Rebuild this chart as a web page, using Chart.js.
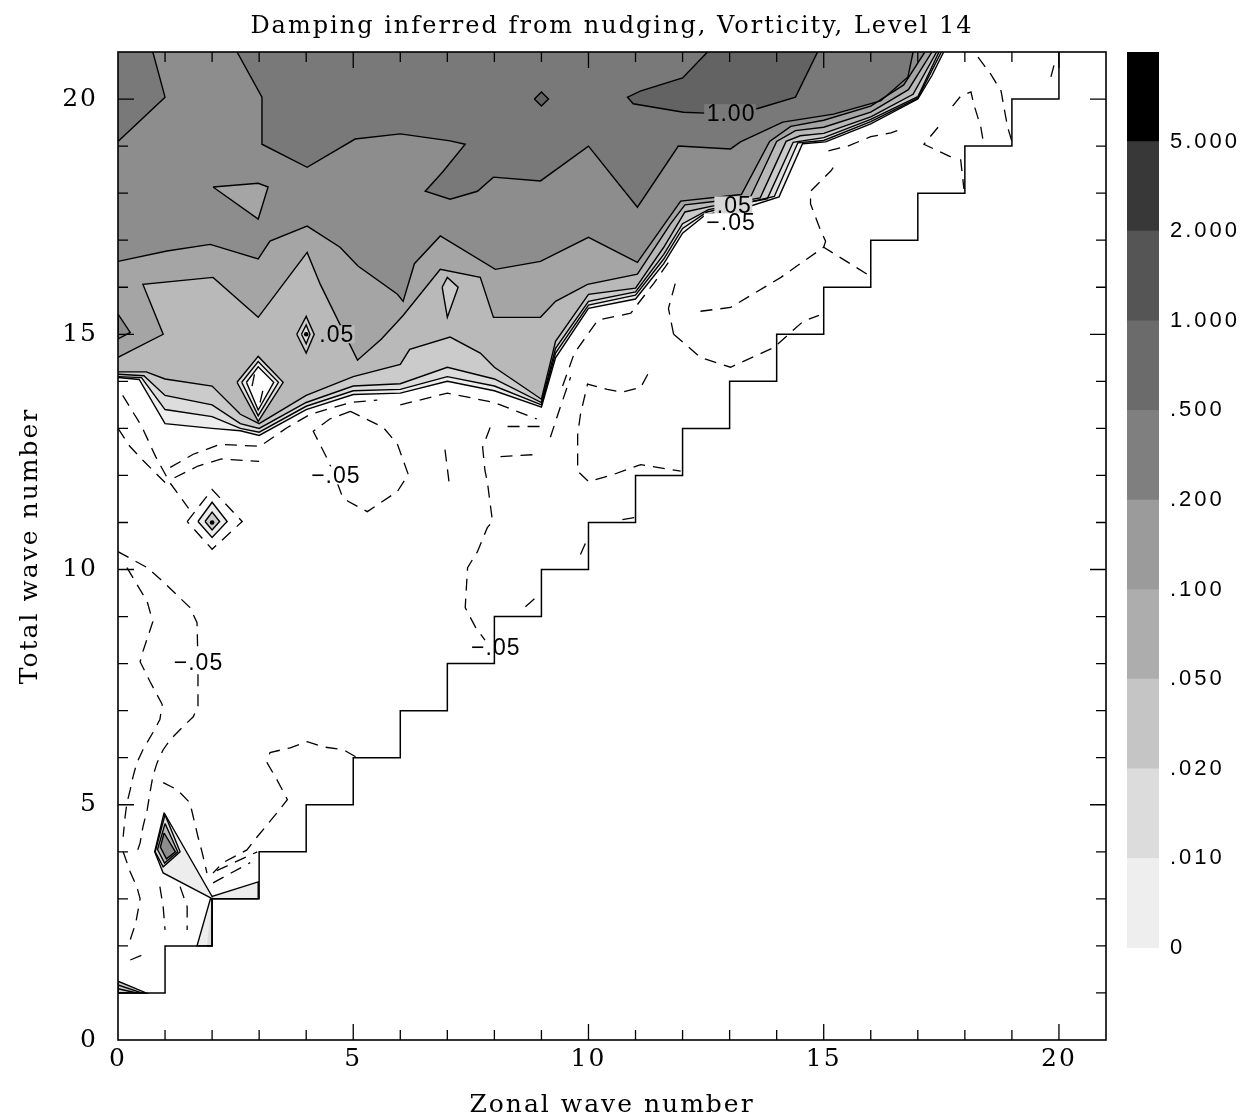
<!DOCTYPE html>
<html>
<head>
<meta charset="utf-8">
<script src="https://cdn.jsdelivr.net/npm/chart.js@4.4.1/dist/chart.umd.min.js"></script>
<style>
html,body{margin:0;padding:0;background:#fff;overflow:hidden;width:1252px;height:1120px}
#c1{position:absolute;left:0;top:0}
#c2{position:absolute;left:1110px;top:0}
</style>
</head>
<body>
<canvas id="c1" width="1252" height="1120"></canvas>
<canvas id="c2" width="142" height="1120"></canvas>
<script>
// ---------------- texts ----------------
const chartTitle = 'Damping inferred from nudging, Vorticity, Level 14';
const xTitle = 'Zonal wave number';
const yTitle = 'Total wave number';
const axisMajor = [0, 5, 10, 15, 20];
const levelLabels = ['0', '.010', '.020', '.050', '.100', '.200', '.500', '1.000', '2.000', '5.000'];
const barColors = ['#eeeeee', '#dcdcdc', '#c5c5c5', '#adadad', '#9b9b9b', '#7f7f7f', '#6b6b6b', '#555555', '#383838', '#000000'];
// plot band shades: 0-.01, .01-.02, .02-.05, .05-.1, .1-.2, .2-.5, .5-1, 1-2
const bandColors = ['#ededed', '#dddddd', '#cbcbcb', '#b9b9b9', '#a5a5a5', '#8d8d8d', '#797979', '#636363'];

// ---------------- contours (x = zonal wave number, y = total wave number) ----------------
const c000 = [[0,14.08],[0.45,14.04],[1,13.1],[2,13.0],[2.6,12.95],[3,12.85],[4,13.4],[5,13.72],[6,13.75],[7,14.0],[8,13.8],[9,13.45],[9.3,14.5],[10,15.55],[11,15.75],[11.6,16.5],[12,17.15],[12.5,17.55],[13.3,17.68],[14.05,17.92],[14.55,19.05],[15.04,19.09],[16,19.47],[17,20.0],[17.3,20.5],[17.55,21]];
const c001 = [[0,14.1],[0.5,14.08],[1,13.4],[2,13.25],[2.6,13.0],[3,12.92],[4,13.47],[5,13.8],[6,13.83],[7,14.1],[8,13.9],[9,13.5],[9.3,14.6],[10,15.62],[11,15.83],[11.6,16.6],[12,17.25],[12.52,17.6],[13.95,17.93],[14.45,19.07],[15,19.12],[16,19.52],[17,20.02],[17.5,21]];
const c002 = [[0,14.15],[0.55,14.12],[1,13.7],[2,13.5],[2.6,13.1],[3,13.0],[4,13.55],[5,13.9],[6,13.95],[7,14.3],[8,14.05],[9,13.55],[9.3,14.7],[10,15.7],[11,15.9],[11.6,16.7],[12,17.35],[12.55,17.65],[13.8,17.88],[14.35,19.08],[15,19.18],[16,19.57],[17,20.05],[17.45,21]];
const c005 = [[0,14.2],[0.6,14.2],[1,14.05],[2,13.9],[2.6,13.3],[3,13.1],[4,13.7],[5,14.1],[6,14.36],[6.2,14.68],[7.06,14.94],[7.7,14.6],[8,14.3],[9,13.62],[9.3,14.85],[10,15.85],[11,15.98],[11.6,16.85],[12.05,17.6],[12.6,17.72],[13.65,17.9],[14.2,19.1],[14.5,19.22],[15,19.27],[16,19.62],[16.9,20.1],[17.4,21]];
const c010 = [[0,14.51],[0.96,15.0],[0.53,16.06],[2.02,16.21],[2.98,15.36],[4.02,16.74],[4.3,16.06],[5.09,14.45],[5.6,14.9],[6.06,15.4],[6.85,16.38],[7.7,16.21],[7.98,15.36],[8.98,15.36],[9.3,15.7],[9.98,16.06],[11.04,16.28],[11.74,17.34],[12.05,17.75],[12.9,17.85],[13.45,17.93],[14.0,19.1],[14.4,19.33],[15,19.4],[16,19.72],[16.8,20.2],[17.3,21]];
const c020 = [[0,16.55],[1.04,16.77],[1.96,16.91],[2.98,16.6],[3.23,16.98],[4.02,17.3],[4.72,16.85],[5.1,16.45],[5.94,15.85],[6.06,15.7],[6.3,16.5],[6.85,17.09],[8.02,16.38],[8.98,16.55],[10,17.06],[11.04,16.53],[11.96,17.83],[12.96,17.94],[13.25,17.97],[13.85,19.1],[14.3,19.42],[15,19.55],[16,19.85],[16.7,20.3],[17.15,21]];
const c050a = [[0.74,21],[1,20.04],[0,19.1]];
const c050b = [[2.53,21],[3.06,20.04],[3.06,19.04],[4.02,18.55],[5.04,19.15],[6,19.26],[7.06,19.11],[7.38,19.04],[6.9,18.45],[6.53,18.04],[7.06,17.87],[7.64,18.04],[7.98,18.34],[8.98,18.26],[10,19.0],[11.04,17.7],[11.91,19.0],[13.02,18.94],[13.23,19.09],[14.13,19.51],[15.21,19.68],[16.21,19.96],[16.79,20.47],[16.9,21]];
const c100 = [[12.53,21],[12.0,20.45],[11.1,20.17],[10.83,20.04],[10.95,19.9],[12.02,19.72],[12.5,19.7],[13.6,19.8],[14.4,20.04],[14.87,21]];

// ---------------- closed islands ----------------
const isDiamond9 = [[8.85,20],[9,20.15],[9.15,20],[9,19.85]];
const isTriangle = [[2.02,18.13],[2.98,18.21],[3.19,18.13],[2.98,17.45]];
const isWedge = [[0,15.43],[0.26,15.04],[0,14.9]];
const isLens = [[6.89,16.0],[7,16.21],[7.23,16.0],[7,15.36]];
const isDia05a = [[3.8,15.0],[4,15.38],[4.17,15.0],[4,14.6]];
const isDia05b = [[3.9,15.0],[4,15.2],[4.08,15.0],[4,14.8]];
const holeA = [[2.53,13.98],[2.98,14.53],[3.51,13.98],[2.98,13.15]];
const holeB = [[2.63,13.98],[2.98,14.42],[3.41,13.98],[2.98,13.27]];
const holeC = [[2.73,13.98],[2.98,14.31],[3.31,13.98],[2.98,13.39]];
const bumpA = [[1.7,11.02],[2,11.43],[2.32,11.02],[2,10.68]];
const bumpB = [[1.85,11.02],[2,11.22],[2.16,11.02],[2,10.84]];
const lowP0 = [[0.98,4.83],[2.0,3.05],[2.98,3.36],[2.98,3.0],[2.0,3.0],[2.0,2.0],[1.68,2.0],[1.97,3.02],[0.96,3.55],[0.78,4.0]];
const lowP1 = [[1.89,2.0],[2.0,2.0],[2.0,3.03]];
const kiteA = [[1.0,4.79],[1.32,4.0],[0.96,3.68],[0.79,4.0]];
const kiteB = [[1.0,4.6],[1.27,4.0],[0.99,3.76],[0.84,4.05]];
const kiteC = [[0.98,4.4],[1.22,4.0],[1.03,3.85],[0.9,4.1]];
const cornerW = [[0,1.25],[0.6,1.0],[0,1.0]];
const cornerL1 = [[0,1.17],[0.5,1.0]];
const cornerL2 = [[0,1.09],[0.4,1.0]];
const centreDots = [[4,15],[2,11]];

// ---------------- negative (dashed) contours ----------------
const negLines = [
  [[0.1,13.7],[0.5,13.05],[0.8,12.4],[1.1,11.85],[1.5,11.3]],
  [[0,13.0],[0.25,12.62],[0.55,12.3],[0.85,12.0],[1.1,11.75]],
  [[0,10.38],[0.62,10.04],[0.96,9.74],[1.53,9.19],[1.68,8.87],[1.7,8.0],[1.7,7.1],[1.6,6.87],[1.38,6.66],[1.11,6.38],[0.96,6.17],[0.83,5.89],[0.74,5.6],[0.68,5.26],[0.62,4.89],[0.53,4.53],[0.47,4.19],[0.4,3.98]],
  [[0.19,10.04],[0.62,9.32],[0.74,8.89],[0.53,8.26],[0.47,8.04],[0.68,7.62],[0.94,7.13],[0.89,6.81],[0.74,6.53],[0.53,6.17],[0.4,5.89],[0.32,5.6],[0.26,5.32],[0.19,5.04],[0.15,4.74],[0.11,4.32]],
  [[0.96,5.47],[1.26,5.32],[1.53,5.04],[1.6,4.74],[1.7,4.32],[1.79,3.98],[1.89,3.55]],
  [[0.89,3.26],[0.96,2.83],[1.0,2.34]],
  [[1.32,3.26],[1.47,2.83],[1.47,2.34]],
  [[5.05,6.02],[4.79,6.17],[4.36,6.23],[4.02,6.34],[3.66,6.21],[3.23,6.11],[3.17,5.89],[3.38,5.53],[3.6,5.11],[3.38,4.83],[2.96,4.32],[2.74,4.04],[2.23,3.77],[2.02,3.55]],
  [[2.02,3.34],[2.81,3.77]],
  [[2.1,3.6],[2.96,4.0]],
  [[0.11,4.0],[0.26,3.57],[0.4,3.26],[0.47,3.0],[0.38,2.5],[0.26,2.13]],
  [[0.26,1.7],[0.62,1.85]],
  [[1.11,12.17],[1.6,12.45],[2.17,12.66],[3.02,12.62],[3.6,13.02],[4.09,13.3],[4.94,13.55],[5.51,13.6]],
  [[1.2,11.95],[1.7,12.2],[2.2,12.35],[3.0,12.3]],
  [[1.47,11.02],[2,11.7],[2.64,11.02],[2,10.43],[1.47,11.02]],
  [[4.94,13.36],[4.5,13.2],[4.15,12.94],[4.45,12.35],[4.6,12.0],[4.75,11.6],[4.89,11.45],[5.3,11.23],[5.94,11.66],[6.17,12.02],[5.94,12.66],[5.64,13.02],[4.94,13.36]],
  [[11.26,14.15],[11.11,13.87],[10.72,13.77],[10.4,13.83],[9.98,13.94],[9.83,13.3],[9.77,12.87],[9.77,12.09],[10,11.87],[10.53,12.02],[10.83,12.13],[11.11,12.23],[11.96,12.09]],
  [[7.91,13.02],[7.75,12.6],[7.8,12.1],[7.85,11.87],[7.96,11.02],[7.85,10.89],[7.64,10.38],[7.43,10.04],[7.38,9.19],[7.6,8.77],[7.8,8.5]],
  [[8.28,13.04],[8.98,13.04],[9.04,13.13]],
  [[8.13,12.4],[8.98,12.45]],
  [[9.19,12.81],[9.4,13.45],[9.62,14.09]],
  [[6.95,12.55],[7.05,11.75]],
  [[6.0,13.5],[7.0,13.75],[8.0,13.55],[8.9,13.2]],
  [[9.45,13.9],[9.7,14.6],[10.2,15.3],[10.9,15.45],[11.4,16.1],[11.75,16.6]],
  [[11.81,15.0],[12.38,14.51],[13.02,14.3],[13.94,14.72],[14.57,15.28],[14.9,15.4]],
  [[11.81,15.0],[11.7,15.55],[11.85,16.1]],
  [[12.38,15.49],[13.02,15.57],[14.09,16.21],[14.57,16.55],[15,16.85],[16,16.23]],
  [[15,16.85],[15.04,16.98],[14.94,17.19],[14.72,17.77],[14.72,18.04],[15.15,18.47],[15.3,18.68]],
  [[15.1,18.9],[15.51,19.0],[16,19.2],[16.43,19.28],[16.7,19.38]],
  [[18.28,20.89],[18.55,20.53],[18.77,20.17],[18.83,19.83],[18.91,19.4],[19.0,19.1]],
  [[17.74,19.85],[17.91,20.06],[18.13,20.15],[18.19,19.89],[18.34,19.4],[18.4,19.05]],
  [[17.43,19.4],[17.13,19.04],[17.7,18.77]],
  [[19.83,20.47],[19.9,20.74]],
  [[17.91,18.72],[17.98,18.09]],
  [[9.83,10.32],[9.94,10.57]],
  [[8.66,9.21],[8.91,9.43]],
  [[10.72,11.06],[11.0,11.11]],
  [[2.85,13.9],[2.9,14.15]],
  [[3.02,13.55],[3.1,13.9]]
];

// ---------------- staircase (m > n is undefined) ----------------
const stairs = [[0,1],[1,1],[1,2],[2,2],[2,3],[3,3],[3,4],[4,4],[4,5],[5,5],[5,6],[6,6],[6,7],[7,7],[7,8],[8,8],[8,9],[9,9],[9,10],[10,10],[10,11],[11,11],[11,12],[12,12],[12,13],[13,13],[13,14],[14,14],[14,15],[15,15],[15,16],[16,16],[16,17],[17,17],[17,18],[18,18],[18,19],[19,19],[19,20],[20,20],[20,21]];

// ---------------- contour labels ----------------
const contourLabels = [
  {t: '.05',  x: 4.64,  y: 15.0,  bg: bandColors[3]},
  {t: '1.00', x: 13.02, y: 19.7,  bg: bandColors[6]},
  {t: '.05',  x: 13.09, y: 17.74, bg: '#d6d6d6'},
  {t: '\u2212.05', x: 13.02, y: 17.38, bg: '#ffffff'},
  {t: '\u2212.05', x: 4.62,  y: 12.0,  bg: '#ffffff'},
  {t: '\u2212.05', x: 1.7,   y: 8.02,  bg: '#ffffff'},
  {t: '\u2212.05', x: 8.02,  y: 8.34,  bg: null}
];

// ---------------- build datasets ----------------
const datasets = [];
let seq = 0;
const toPts = a => a.map(p => ({x: p[0], y: p[1]}));
function fillPoly(a, color) {
  datasets.push({data: toPts(a), fill: 'shape', backgroundColor: color, borderColor: 'rgba(0,0,0,0)',
    borderWidth: 0, pointRadius: 0, tension: 0, order: 1000 - (seq++)});
}
function strokeLine(a, dashed, w) {
  datasets.push({data: toPts(a), fill: false, borderColor: '#000', borderWidth: w || 1.4,
    borderDash: dashed ? [12, 8] : [], pointRadius: 0, tension: 0, order: 1000 - (seq++)});
}
const closeLoop = a => a.concat([a[0]]);
const topLeft = [[0, 21]];

// filled bands (painted from the lowest level upward)
fillPoly(c000.concat(topLeft), bandColors[0]);
fillPoly(c001.concat(topLeft), bandColors[1]);
fillPoly(c002.concat(topLeft), bandColors[2]);
fillPoly(c005.concat(topLeft), bandColors[3]);
fillPoly(c010.concat(topLeft), bandColors[4]);
fillPoly(c020.concat(topLeft), bandColors[5]);
fillPoly(c050a.concat(topLeft), bandColors[6]);
fillPoly(c050b, bandColors[6]);
fillPoly(c100, bandColors[7]);
fillPoly(isDiamond9, bandColors[7]);
fillPoly(isTriangle, bandColors[4]);
fillPoly(isWedge, bandColors[5]);
fillPoly(isLens, bandColors[2]);
fillPoly(isDia05a, bandColors[2]);
fillPoly(isDia05b, bandColors[1]);
fillPoly(holeA, bandColors[1]);
fillPoly(holeB, bandColors[0]);
fillPoly(holeC, '#ffffff');
fillPoly(bumpA, bandColors[0]);
fillPoly(bumpB, bandColors[2]);
fillPoly(lowP0, bandColors[0]);
fillPoly(lowP1, bandColors[1]);
fillPoly(kiteA, bandColors[1]);
fillPoly(kiteB, bandColors[3]);
fillPoly(kiteC, bandColors[5]);
fillPoly(cornerW, bandColors[2]);

// solid contour lines
[c000, c001, c002, c005, c010, c020, c050a, c050b, c100].forEach(c => strokeLine(c, false));
[isDiamond9, isTriangle, isWedge, isLens, isDia05a, isDia05b, holeA, holeB, holeC, bumpA, bumpB,
 lowP0, kiteA, kiteB, kiteC, cornerW].forEach(c => strokeLine(closeLoop(c), false));
strokeLine(lowP1, false);
strokeLine(cornerL1, false);
strokeLine(cornerL2, false);

// dashed negative contours
negLines.forEach(c => strokeLine(c, true, 1.3));

// staircase
strokeLine(stairs, false, 1.5);

// centre dots
datasets.push({data: toPts(centreDots), showLine: false, pointRadius: 2.3, pointBackgroundColor: '#000',
  pointBorderWidth: 0, order: 1000 - (seq++)});

// ---------------- plugins ----------------
const spacingPlugin = {
  id: 'spacing',
  beforeDraw(chart) { chart.ctx.letterSpacing = '2px'; },
  beforeDatasetsDraw(chart) { chart.ctx.letterSpacing = '0px'; }
};
const framePlugin = {
  id: 'frameTicks',
  afterDatasetsDraw(chart) {
    const {ctx, chartArea: a, scales: {x, y}} = chart;
    ctx.save();
    ctx.strokeStyle = '#000';
    ctx.lineWidth = 1.3;
    ctx.beginPath();
    for (let v = 1; v < 21; v++) {
      const len = axisMajor.includes(v) ? 16 : 10;
      const px = x.getPixelForValue(v), py = y.getPixelForValue(v);
      ctx.moveTo(px, a.bottom); ctx.lineTo(px, a.bottom - len);
      ctx.moveTo(px, a.top); ctx.lineTo(px, a.top + len);
      ctx.moveTo(a.left, py); ctx.lineTo(a.left + len, py);
      ctx.moveTo(a.right, py); ctx.lineTo(a.right - len, py);
    }
    ctx.stroke();
    ctx.lineWidth = 1.6;
    ctx.strokeRect(a.left, a.top, a.right - a.left, a.bottom - a.top);
    ctx.restore();
  }
};
const labelPlugin = {
  id: 'contourLabels',
  afterDatasetsDraw(chart) {
    const {ctx, scales: {x, y}} = chart;
    ctx.save();
    ctx.letterSpacing = '1px';
    ctx.font = '23px "Liberation Sans"';
    ctx.textAlign = 'center';
    ctx.textBaseline = 'middle';
    contourLabels.forEach(L => {
      const px = x.getPixelForValue(L.x), py = y.getPixelForValue(L.y);
      const w = ctx.measureText(L.t).width;
      if (L.bg) { ctx.fillStyle = L.bg; ctx.fillRect(px - w / 2 - 2, py - 9, w + 3, 18); }
      ctx.fillStyle = '#000';
      ctx.fillText(L.t, px + 0.5, py + 1);
    });
    ctx.restore();
  }
};

const serif = 'DejaVu Serif';
new Chart(document.getElementById('c1'), {
  type: 'line',
  data: {datasets},
  options: {
    responsive: false,
    animation: false,
    events: [],
    layout: {padding: {left: 8, right: 146, top: 0, bottom: 0}},
    plugins: {
      legend: {display: false},
      tooltip: {enabled: false},
      title: {display: true, text: chartTitle, color: '#000', fullSize: false,
        font: {family: serif, size: 24, weight: 'normal', lineHeight: 1.2},
        padding: {top: 12, bottom: 11.2}}
    },
    scales: {
      x: {type: 'linear', min: 0, max: 21, position: 'bottom',
        grid: {display: false, drawTicks: false}, border: {display: false},
        ticks: {stepSize: 1, autoSkip: false, maxRotation: 0, padding: 4, color: '#000',
          font: {family: serif, size: 25},
          callback: v => axisMajor.includes(v) ? String(v) : ''},
        title: {display: true, text: xTitle, color: '#000', font: {family: serif, size: 25, lineHeight: 1.2},
          padding: {top: 0, bottom: 0}},
        afterFit: s => { s.height = 80; }},
      y: {type: 'linear', min: 0, max: 21, position: 'left',
        grid: {display: false, drawTicks: false}, border: {display: false},
        ticks: {stepSize: 1, autoSkip: false, padding: 20, color: '#000',
          font: {family: serif, size: 25},
          callback: v => axisMajor.includes(v) ? String(v) : ''},
        title: {display: true, text: yTitle, color: '#000', font: {family: serif, size: 25, lineHeight: 1.2},
          padding: {top: 7, bottom: 0}},
        afterFit: s => { s.width = 110; }}
    }
  },
  plugins: [spacingPlugin, framePlugin, labelPlugin]
});

// ---------------- colour bar ----------------
const barSpacing = {
  id: 'barSpacing',
  beforeDraw(chart) { chart.ctx.letterSpacing = '3px'; }
};
new Chart(document.getElementById('c2'), {
  type: 'bar',
  data: {
    labels: [''],
    datasets: barColors.map((c, i) => ({label: levelLabels[i], data: [1], backgroundColor: c, borderWidth: 0,
      barPercentage: 1, categoryPercentage: 1}))
  },
  options: {
    responsive: false,
    animation: false,
    events: [],
    layout: {padding: {left: 17, right: 0, top: 52, bottom: 172}},
    plugins: {legend: {display: false}, tooltip: {enabled: false}},
    scales: {
      x: {stacked: true, display: false},
      y: {stacked: true, min: 0, max: 10, position: 'right',
        grid: {display: false, drawTicks: false}, border: {display: false},
        ticks: {stepSize: 1, autoSkip: false, padding: 11, color: '#000',
          font: {family: 'Liberation Sans', size: 22},
          callback: v => (levelLabels[v] !== undefined ? levelLabels[v] : '')},
        afterFit: s => { s.width = 93; }}
    }
  },
  plugins: [barSpacing]
});
</script>
</body>
</html>
